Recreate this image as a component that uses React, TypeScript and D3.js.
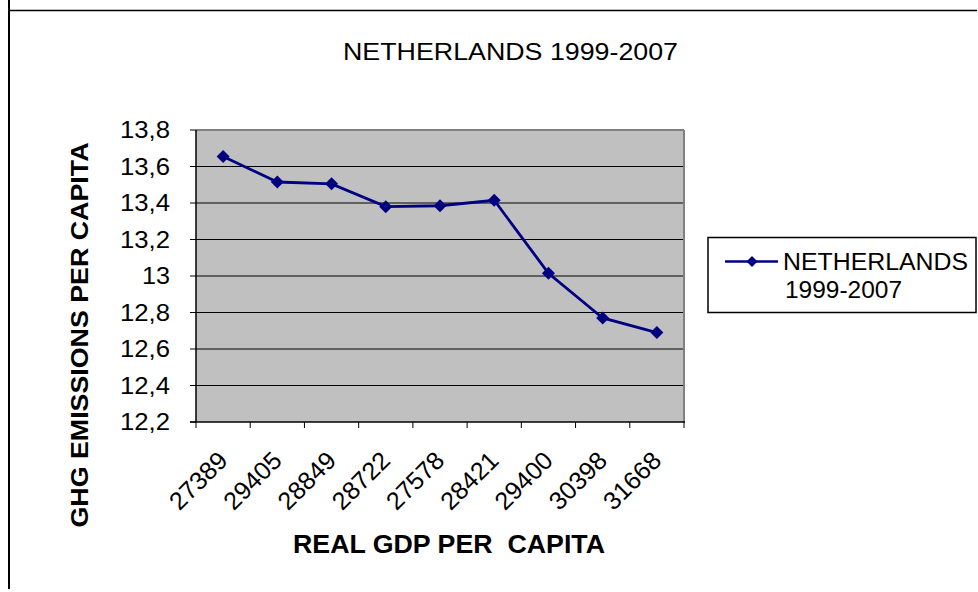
import React from "react";
import * as d3 from "d3";

const categories = ["27389", "29405", "28849", "28722", "27578", "28421", "29400", "30398", "31668"];
const emissions = [13.655, 13.515, 13.505, 13.38, 13.385, 13.415, 13.015, 12.77, 12.69];
const yTicks = [12.2, 12.4, 12.6, 12.8, 13.0, 13.2, 13.4, 13.6, 13.8];
const title = "NETHERLANDS 1999-2007";
const seriesName = ["NETHERLANDS", "1999-2007"];

const W = 978, H = 592;
const plot = { left: 196, right: 684, top: 130, bottom: 422 };
const font = "'Liberation Sans', Arial, sans-serif";

export default function App() {
  const x = d3.scaleBand().domain(categories).range([plot.left, plot.right]);
  const y = d3.scaleLinear().domain([12.2, 13.8]).range([plot.bottom, plot.top]);
  const line = d3.line<number>()
    .x((_, i) => (x(categories[i]) as number) + x.bandwidth() / 2)
    .y((d) => y(d));
  const diamond = (cx: number, cy: number, r = 6.5) =>
    `M${cx},${cy - r}L${cx + r},${cy}L${cx},${cy + r}L${cx - r},${cy}Z`;
  const fmt = (v: number) => (Math.abs(v - 13) < 1e-9 ? "13" : v.toFixed(1).replace(".", ","));
  const boundaries = d3.range(categories.length + 1).map((i) => plot.left + i * x.step());

  return (
    <svg width={W} height={H} style={{ position: "absolute", left: 0, top: 0, background: "#fff" }}>
      {/* page frame lines */}
      <line x1={9} y1={0} x2={9} y2={589} stroke="#000" strokeWidth={2} />
      <line x1={9} y1={10.5} x2={977} y2={10.5} stroke="#000" strokeWidth={1.5} />

      <text x={343} y={60} textLength={335} lengthAdjust="spacingAndGlyphs" fontFamily={font} fontSize={24} fill="#000">{title}</text>

      {/* plot area */}
      <rect x={plot.left} y={plot.top} width={plot.right - plot.left} height={plot.bottom - plot.top} fill="#c0c0c0" />
      {yTicks.slice(1, -1).map((t) => (
        <line key={t} x1={plot.left} x2={plot.right} y1={y(t)} y2={y(t)} stroke="#000" strokeWidth={1} />
      ))}
      <line x1={plot.left} x2={plot.right} y1={plot.top} y2={plot.top} stroke="#808080" strokeWidth={2} />
      <line x1={plot.right} x2={plot.right} y1={plot.top} y2={plot.bottom} stroke="#808080" strokeWidth={2} />
      <line x1={plot.left} x2={plot.left} y1={plot.top} y2={plot.bottom} stroke="#000" strokeWidth={1.5} />
      <line x1={plot.left - 6} x2={plot.right + 1} y1={plot.bottom} y2={plot.bottom} stroke="#000" strokeWidth={1.5} />

      {/* y ticks */}
      {yTicks.map((t) => {
        const s = fmt(t);
        return (
          <g key={t}>
            <line x1={plot.left - 6} x2={plot.left} y1={y(t)} y2={y(t)} stroke="#000" strokeWidth={1} />
            <text x={170} y={y(t)} dy="0.36em" textAnchor="end" textLength={s.length === 2 ? 28 : 50} lengthAdjust="spacingAndGlyphs" fontFamily={font} fontSize={23} fill="#000">{s}</text>
          </g>
        );
      })}
      {/* x ticks */}
      {boundaries.map((bx, i) => (
        <line key={i} x1={bx} x2={bx} y1={plot.bottom} y2={plot.bottom + 6} stroke="#000" strokeWidth={1} />
      ))}
      {categories.map((c) => {
        const cx = (x(c) as number) + x.bandwidth() / 2 + 6;
        const cy = plot.bottom + 40;
        return (
          <text key={c} x={cx} y={cy} textAnchor="end" textLength={70} lengthAdjust="spacingAndGlyphs" transform={`rotate(-45 ${cx} ${cy})`} fontFamily={font} fontSize={25} fill="#000">{c}</text>
        );
      })}

      {/* series */}
      <path d={line(emissions) || ""} fill="none" stroke="#000080" strokeWidth={2.8} />
      {emissions.map((v, i) => (
        <path key={i} d={diamond((x(categories[i]) as number) + x.bandwidth() / 2, y(v))} fill="#000080" />
      ))}

      {/* axis titles */}
      <text x={293} y={553} textLength={312} lengthAdjust="spacingAndGlyphs" fontFamily={font} fontSize={25} fontWeight="bold" fill="#000" style={{ whiteSpace: "pre" }}>{"REAL GDP PER  CAPITA"}</text>
      <text x={0} y={0} transform="translate(88,335) rotate(-90)" textAnchor="middle" textLength={385} lengthAdjust="spacingAndGlyphs" fontFamily={font} fontSize={23} fontWeight="bold" fill="#000">GHG EMISSIONS PER CAPITA</text>

      {/* legend */}
      <rect x={708} y={237.5} width={268} height={75} fill="#fff" stroke="#000" strokeWidth={1.5} />
      <line x1={725} x2={778} y1={261.5} y2={261.5} stroke="#000080" strokeWidth={2.5} />
      <path d={diamond(752, 261.5, 5.5)} fill="#000080" />
      <text x={783} y={270} textLength={185} lengthAdjust="spacingAndGlyphs" fontFamily={font} fontSize={23} fill="#000">{seriesName[0]}</text>
      <text x={785} y={298} textLength={117} lengthAdjust="spacingAndGlyphs" fontFamily={font} fontSize={23} fill="#000">{seriesName[1]}</text>
    </svg>
  );
}
